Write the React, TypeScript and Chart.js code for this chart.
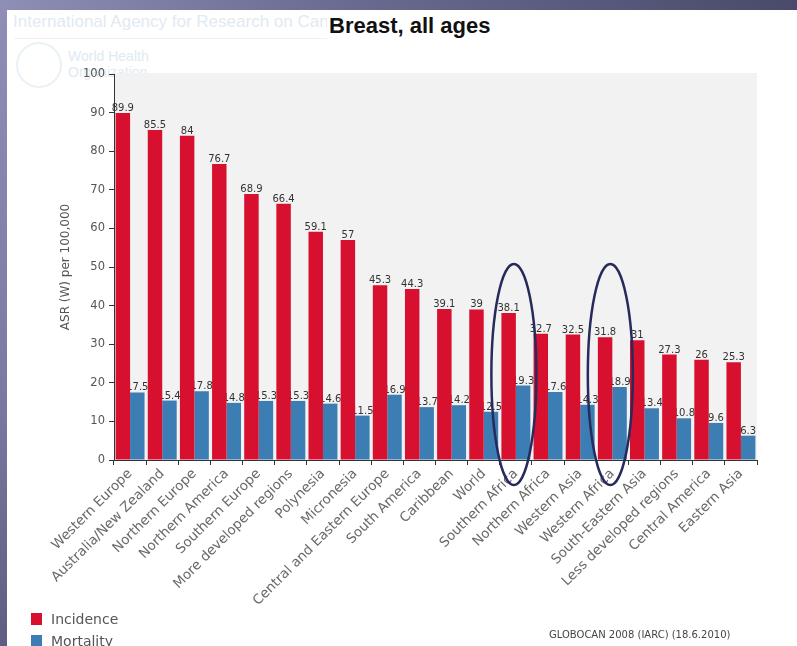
import React, { useEffect, useRef } from "react";
import { Chart, registerables } from "chart.js";

Chart.register(...registerables);

const categories = [
  "Western Europe",
  "Australia/New Zealand",
  "Northern Europe",
  "Northern America",
  "Southern Europe",
  "More developed regions",
  "Polynesia",
  "Micronesia",
  "Central and Eastern Europe",
  "South America",
  "Caribbean",
  "World",
  "Southern Africa",
  "Northern Africa",
  "Western Asia",
  "Western Africa",
  "South-Eastern Asia",
  "Less developed regions",
  "Central America",
  "Eastern Asia",
];
const incidence = [89.9, 85.5, 84, 76.7, 68.9, 66.4, 59.1, 57, 45.3, 44.3, 39.1, 39, 38.1, 32.7, 32.5, 31.8, 31, 27.3, 26, 25.3];
const mortality = [17.5, 15.4, 17.8, 14.8, 15.3, 15.3, 14.6, 11.5, 16.9, 13.7, 14.2, 12.5, 19.3, 17.6, 14.3, 18.9, 13.4, 10.8, 9.6, 6.3];
const seriesNames = ["Incidence", "Mortality"];
const highlighted = ["Southern Africa", "Western Africa"];
const yMin = 0;
const yMax = 100;
const yStep = 10;

const RED = "#d7102f";
const BLUE = "#3c7db4";
const FONT = '"DejaVu Sans", sans-serif';

const plotBg = {
  id: "plotBg",
  beforeDraw(chart: any) {
    const { ctx, chartArea: a } = chart;
    ctx.save();
    ctx.fillStyle = "#f2f2f2";
    ctx.fillRect(a.left, a.top - 1, a.right - a.left, a.bottom - a.top + 1);
    ctx.restore();
  },
};

const barLabels = {
  id: "barLabels",
  beforeDatasetsDraw(chart: any) {
    const ctx = chart.ctx;
    ctx.save();
    ctx.font = "10px " + FONT;
    ctx.fillStyle = "#333";
    ctx.textAlign = "center";
    ctx.textBaseline = "alphabetic";
    chart.data.datasets.forEach((ds: any, di: number) => {
      const meta = chart.getDatasetMeta(di);
      meta.data.forEach((bar: any, i: number) => {
        ctx.fillText(String(ds.data[i]), bar.x, bar.y - 2);
      });
    });
    ctx.restore();
  },
};

const ellipses = {
  id: "ellipses",
  afterDatasetsDraw(chart: any) {
    const { ctx, chartArea: a, scales } = chart;
    const x = scales.x;
    ctx.save();
    ctx.strokeStyle = "#272a5c";
    ctx.lineWidth = 2.5;
    highlighted.forEach((name) => {
      const idx = categories.indexOf(name);
      if (idx < 0) return;
      const cx = x.getPixelForValue(idx) - 2;
      const top = a.top + 190;
      const bottom = a.bottom + 25;
      ctx.beginPath();
      ctx.ellipse(cx, (top + bottom) / 2, 22.5, (bottom - top) / 2, 0, 0, Math.PI * 2);
      ctx.stroke();
    });
    ctx.restore();
  },
};

function ChartCanvas() {
  const ref = useRef<HTMLCanvasElement | null>(null);
  useEffect(() => {
    if (!ref.current) return;
    const chart = new Chart(ref.current, {
      type: "bar",
      data: {
        labels: categories,
        datasets: [
          {
            label: seriesNames[0],
            data: incidence,
            backgroundColor: RED,
            categoryPercentage: 0.9,
            barPercentage: 1.0,
          },
          {
            label: seriesNames[1],
            data: mortality,
            backgroundColor: BLUE,
            categoryPercentage: 0.9,
            barPercentage: 1.0,
          },
        ],
      },
      options: {
        responsive: false,
        animation: false,
        layout: { padding: { left: 59, top: 74, right: 40, bottom: 0 } },
        plugins: {
          legend: { display: false },
          tooltip: { enabled: false },
          title: { display: false },
        },
        scales: {
          x: {
            afterFit: (s: any) => {
              s.height = 186;
            },
            grid: {
              drawOnChartArea: false,
              drawTicks: true,
              tickLength: 5,
              color: "#333",
              offset: true,
            },
            border: { display: true, color: "#333", width: 1 },
            ticks: {
              autoSkip: false,
              minRotation: 45,
              maxRotation: 45,
              padding: 1,
              color: "#6a6a6a",
              font: { family: FONT, size: 13.5 },
            },
          },
          y: {
            min: yMin,
            max: yMax,
            afterFit: (s: any) => {
              s.width = 55;
            },
            grid: {
              drawOnChartArea: false,
              drawTicks: true,
              tickLength: 5,
              color: "#333",
            },
            border: { display: true, color: "#333", width: 1 },
            ticks: {
              stepSize: yStep,
              padding: 4,
              color: "#555",
              font: { family: FONT, size: 11.5 },
            },
            title: {
              display: true,
              text: "ASR (W) per 100,000",
              color: "#555",
              font: { family: FONT, size: 12 },
              padding: { top: 0, bottom: 0 },
            },
          },
        },
      },
      plugins: [plotBg, barLabels, ellipses],
    });
    return () => chart.destroy();
  }, []);
  return (
    <canvas
      ref={ref}
      width={797}
      height={646}
      style={{ position: "absolute", left: 0, top: 0, width: 797, height: 646 }}
    />
  );
}

export default function App() {
  return (
    <div
      style={{
        position: "fixed",
        left: 0,
        top: 0,
        width: 797,
        height: 646,
        overflow: "hidden",
        background: "#ffffff",
        fontFamily: FONT,
      }}
    >
      <div
        style={{
          position: "absolute",
          left: 0,
          top: 0,
          width: 797,
          height: 10,
          background: "linear-gradient(to right, #8e8eb6, #6a6a90 45%, #4a4a6c)",
        }}
      />
      <div
        style={{
          position: "absolute",
          left: 0,
          top: 0,
          width: 7,
          height: 646,
          background: "linear-gradient(to bottom, #8e8eb6, #7a7aa2 60%, #5e5e84)",
        }}
      />
      <div
        style={{
          position: "absolute",
          left: 13,
          top: 12,
          fontFamily: "Arial, 'Liberation Sans', sans-serif",
          fontSize: 17,
          color: "#dfeaf3",
          whiteSpace: "nowrap",
        }}
      >
        International Agency for Research on Cancer
      </div>
      <div
        style={{
          position: "absolute",
          left: 14,
          top: 38,
          width: 320,
          height: 1,
          background: "#f8f0e6",
        }}
      />
      <div
        style={{
          position: "absolute",
          left: 16,
          top: 42,
          width: 42,
          height: 42,
          borderRadius: "50%",
          border: "2px solid #eaf1f6",
        }}
      />
      <div
        style={{
          position: "absolute",
          left: 68,
          top: 48,
          fontFamily: "Arial, 'Liberation Sans', sans-serif",
          fontSize: 14,
          lineHeight: "16px",
          color: "#e0eaf2",
          whiteSpace: "nowrap",
        }}
      >
        World Health
        <br />
        Organization
      </div>
      <ChartCanvas />
      <div
        style={{
          position: "absolute",
          left: 327,
          top: 13,
          padding: "0 2px",
          background: "#ffffff",
          fontFamily: "Arial, 'Liberation Sans', sans-serif",
          fontWeight: "bold",
          fontSize: 22,
          color: "#111",
          whiteSpace: "nowrap",
        }}
      >
        Breast, all ages
      </div>
      {seriesNames.map((name, i) => (
        <div
          key={name}
          style={{
            position: "absolute",
            left: 31,
            top: 611 + i * 22,
            height: 16,
            display: "flex",
            alignItems: "center",
            whiteSpace: "nowrap",
          }}
        >
          <span
            style={{
              display: "inline-block",
              width: 11,
              height: 12,
              background: i === 0 ? RED : BLUE,
              marginRight: 9,
            }}
          />
          <span style={{ fontSize: 14, color: "#555", fontFamily: FONT }}>{name}</span>
        </div>
      ))}
      <div
        style={{
          position: "absolute",
          left: 549,
          top: 629,
          fontSize: 10,
          color: "#444",
          fontFamily: FONT,
          whiteSpace: "nowrap",
        }}
      >
        GLOBOCAN 2008 (IARC) (18.6.2010)
      </div>
    </div>
  );
}
